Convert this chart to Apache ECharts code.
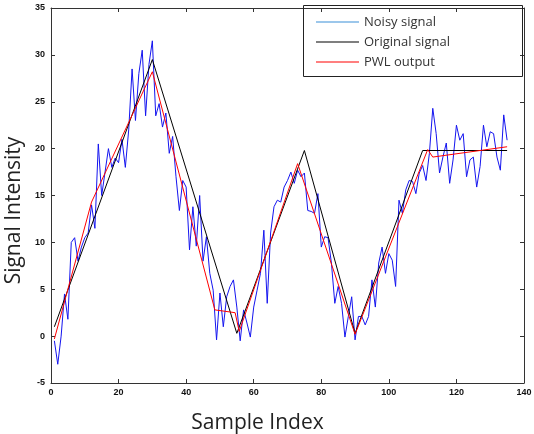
<!DOCTYPE html>
<html>
<head>
<meta charset="utf-8">
<title>PWL output</title>
<script src="https://cdn.jsdelivr.net/npm/echarts@6/dist/echarts.min.js"></script>
<style>
  html, body { margin: 0; padding: 0; background: #fff; }
  #chart { width: 534px; height: 434px; }
</style>
</head>
<body>
<div id="chart"></div>
<script>
// noisy samples, index 1..135
const noisyStart = 1
const noisyValues = [
  -0.5, -3, 0, 4.5, 1.8, 10, 10.5, 8, 9.5, 10.5,
  11, 14, 11.5, 20.5, 15, 17.5, 20, 18, 19, 18.5,
  21, 18, 22, 28.5, 23, 28, 30.5, 23.5, 29, 31.5,
  23.5, 24.8, 22.3, 23.8, 19.5, 21.3, 17, 13.4, 16.6, 15.9,
  9.2, 13.8, 9.6, 15, 8, 10.6, 6.7, 4.9, -0.4, 4.6,
  1, 4.2, 5.3, 6, 3.1, -0.5, 2.8, 1.4, -0.1, 3.1,
  4.9, 6.7, 11.3, 3.5, 11, 13.8, 14.5, 14.3, 15.9, 16.6,
  17.5, 16.3, 17.7, 17, 17.4, 13.4, 13.3, 13.1, 15.2, 9.5,
  10.6, 10.5, 7.8, 3.5, 5.3, 3.5, -0.1, 2.1, 4.2, -0.4,
  2.1, 2.1, 1.2, 2.1, 6, 3.1, 7.8, 9.5, 6.7, 8.8,
  8.1, 5.3, 14.5, 13.1, 15.6, 16.6, 16.5, 15.2, 17.4, 18.2,
  16.6, 19.5, 24.3, 21.6, 17.4, 19.1, 20.6, 16.3, 18.8, 22.5,
  20.9, 21.6, 17, 18.8, 19.1, 15.9, 18.1, 22.5, 20.2, 21.8,
  21.6, 19.1, 17.7, 23.6, 20.9
]
// original signal breakpoints
const origX = [1, 30, 55, 75, 90, 110, 135]
const origY = [1, 29.5, 0.3, 19.8, 0.3, 19.8, 19.8]
// PWL fit breakpoints
const pwlX = [1, 12, 30, 48.5, 54.5, 55.7, 73, 90, 111.5, 113, 135]
const pwlY = [-0.3, 14.3, 28.2, 2.8, 2.5, 0.5, 18.4, 0.2, 19.9, 19.1, 20.2]

const seriesNames = ['Noisy signal', 'Original signal', 'PWL output']
const xTicks = [0, 140, 20]
const yTicks = [-5, 35, 5]

const noisyData = noisyValues.map((v, i) => [noisyStart + i, v])
const origData = origX.map((x, i) => [x, origY[i]])
const pwlData = pwlX.map((x, i) => [x, pwlY[i]])

const tickLabel = { fontFamily: 'Liberation Sans', fontWeight: 'bold', fontSize: 9, color: '#111' }
const axisBase = {
  type: 'value',
  axisLine: { show: true, onZero: false, lineStyle: { color: '#333', width: 1 } },
  axisTick: { show: true, inside: true, length: 4, lineStyle: { color: '#333' } },
  splitLine: { show: false }
}

const mychart = echarts.init(document.getElementById('chart'))
mychart.setOption({
  animation: false,
  backgroundColor: '#fff',
  grid: { left: 51, right: 10, top: 8, bottom: 51, outerBoundsMode: 'none' },
  // legend box
  graphic: [{
    type: 'rect',
    shape: { x: 303.5, y: 5.5, width: 219, height: 71 },
    style: { fill: 'none', stroke: '#222', lineWidth: 1 },
    z: 5
  }],
  legend: {
    orient: 'vertical',
    left: 311,
    top: 10,
    icon: 'rect',
    itemWidth: 43,
    itemHeight: 1.2,
    itemGap: 6,
    itemTextGap: 15,
    textStyle: { fontFamily: 'Open Sans', fontSize: 13, lineHeight: 14, color: '#333' },
    data: [
      { name: seriesNames[0], itemStyle: { color: '#3a8fd8' } },
      { name: seriesNames[1], itemStyle: { color: '#000' } },
      { name: seriesNames[2], itemStyle: { color: '#ff0000' } }
    ]
  },
  xAxis: [
    Object.assign({}, axisBase, {
      position: 'bottom',
      min: xTicks[0], max: xTicks[1], interval: xTicks[2],
      name: 'Sample Index',
      nameLocation: 'middle',
      nameGap: 30,
      nameTextStyle: { fontFamily: 'Open Sans', fontSize: 21, color: '#222', padding: [0, 60, 0, 0] },
      axisLabel: Object.assign({ margin: 5 }, tickLabel)
    }),
    Object.assign({}, axisBase, {
      position: 'top',
      min: xTicks[0], max: xTicks[1], interval: xTicks[2],
      axisLabel: { show: false }
    })
  ],
  yAxis: [
    Object.assign({}, axisBase, {
      position: 'left',
      min: yTicks[0], max: yTicks[1], interval: yTicks[2],
      name: 'Signal Intensity',
      nameLocation: 'middle',
      nameGap: 16,
      nameTextStyle: { fontFamily: 'Open Sans', fontSize: 21, color: '#222', padding: [0, 30, 0, 0] },
      axisLabel: Object.assign({ margin: 6 }, tickLabel)
    }),
    Object.assign({}, axisBase, {
      position: 'right',
      min: yTicks[0], max: yTicks[1], interval: yTicks[2],
      axisLabel: { show: false }
    })
  ],
  series: [
    {
      name: seriesNames[0],
      type: 'line',
      data: noisyData,
      symbol: 'none',
      lineStyle: { color: '#1414f0', width: 1 },
      itemStyle: { color: '#3a8fd8' },
      z: 2
    },
    {
      name: seriesNames[1],
      type: 'line',
      data: origData,
      symbol: 'none',
      lineStyle: { color: '#000', width: 1 },
      itemStyle: { color: '#000' },
      z: 3
    },
    {
      name: seriesNames[2],
      type: 'line',
      data: pwlData,
      symbol: 'none',
      lineStyle: { color: '#ff0000', width: 1 },
      itemStyle: { color: '#ff0000' },
      z: 4
    }
  ]
})
</script>
</body>
</html>
